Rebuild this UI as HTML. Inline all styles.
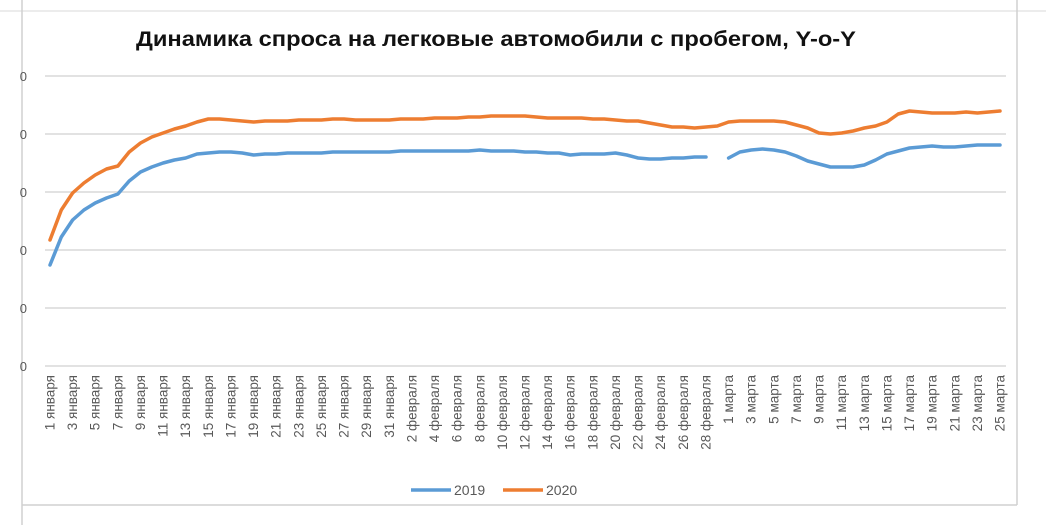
<!DOCTYPE html>
<html><head><meta charset="utf-8"><style>
html,body{margin:0;padding:0;background:#fff;}
svg{display:block;font-family:"Liberation Sans","DejaVu Sans",sans-serif;}
</style></head><body>
<svg id="s" width="1046" height="525" viewBox="0 0 1046 525" xmlns="http://www.w3.org/2000/svg">
<rect width="1046" height="525" fill="#fff"/>
<line x1="0" y1="11" x2="1046" y2="11" stroke="#d9d9d9" stroke-width="1"/>
<line x1="22" y1="0" x2="22" y2="525" stroke="#d0d0d0" stroke-width="1.5"/>
<line x1="1017" y1="0" x2="1017" y2="505" stroke="#d0d0d0" stroke-width="1.5"/>
<line x1="22" y1="505" x2="1017" y2="505" stroke="#d0d0d0" stroke-width="1.5"/>
<text x="136" y="46" font-size="21" font-weight="bold" fill="#111" textLength="720" lengthAdjust="spacingAndGlyphs">Динамика спроса на легковые автомобили с пробегом, Y-o-Y</text>
<g id="grid" stroke="#d9d9d9" stroke-width="1.5"></g>
<g id="yl" font-size="13" fill="#595959"></g>
<g id="xl" font-size="13.5" fill="#595959"></g>
<g id="ln" fill="none" stroke-width="3.5" stroke-linejoin="round" stroke-linecap="round"></g>
<line x1="411" y1="490" x2="451" y2="490" stroke="#5b9bd5" stroke-width="3.5"/>
<text x="454" y="495" font-size="14" fill="#595959">2019</text>
<line x1="503" y1="490" x2="543" y2="490" stroke="#ed7d31" stroke-width="3.5"/>
<text x="546" y="495" font-size="14" fill="#595959">2020</text>
</svg>
<script>
var NS="http://www.w3.org/2000/svg";
function el(p,t,a,txt){var e=document.createElementNS(NS,t);for(var k in a)e.setAttribute(k,a[k]);if(txt)e.textContent=txt;document.getElementById(p).appendChild(e);return e;}
[76,134,192,250,308,366].forEach(function(y){
  el("grid","line",{x1:45,y1:y,x2:1006,y2:y});
  el("yl","text",{x:27,y:y+5,"text-anchor":"end"},"0");
});
var x0=50,dx=(1000-50)/84;
var labels=[];
for(var d=1;d<=31;d+=2)labels.push([d-1,d+" января"]);
for(var d=2;d<=28;d+=2)labels.push([31+d-1,d+" февраля"]);
for(var d=1;d<=25;d+=2)labels.push([60+d-1,d+" марта"]);
labels.forEach(function(l){var x=x0+l[0]*dx+4.5;
  el("xl","text",{x:0,y:0,"text-anchor":"end",transform:"translate("+x+",375) rotate(-90)"},l[1]);});
var o=[240,210,193,183,175,169,166,152,143,137,133,129,126,122,119,119,120,121,122,121,121,121,120,120,120,119,119,120,120,120,120,
119,119,119,118,118,118,117,117,116,116,116,116,117,118,118,118,118,119,119,120,121,121,123,125,127,127,128,127,126,
122,121,121,121,121,122,125,128,133,134,133,131,128,126,122,114,111,112,113,113,113,112,113,112,111];
var b=[265,237,220,210,203,198,194,181,172,167,163,160,158,154,153,152,152,153,155,154,154,153,153,153,153,152,152,152,152,152,152,
151,151,151,151,151,151,151,150,151,151,151,152,152,153,153,155,154,154,154,153,155,158,159,159,158,158,157,157,null,
158,152,150,149,150,152,156,161,164,167,167,167,165,160,154,151,148,147,146,147,147,146,145,145,145];
function draw(arr,c){var pts=[];function flush(){if(pts.length)el("ln","polyline",{points:pts.join(" "),stroke:c});pts=[];}
arr.forEach(function(v,i){if(v==null){flush();return;}pts.push((x0+i*dx).toFixed(1)+","+v);});flush();}
draw(b,"#5b9bd5");draw(o,"#ed7d31");
</script>
</body></html>
